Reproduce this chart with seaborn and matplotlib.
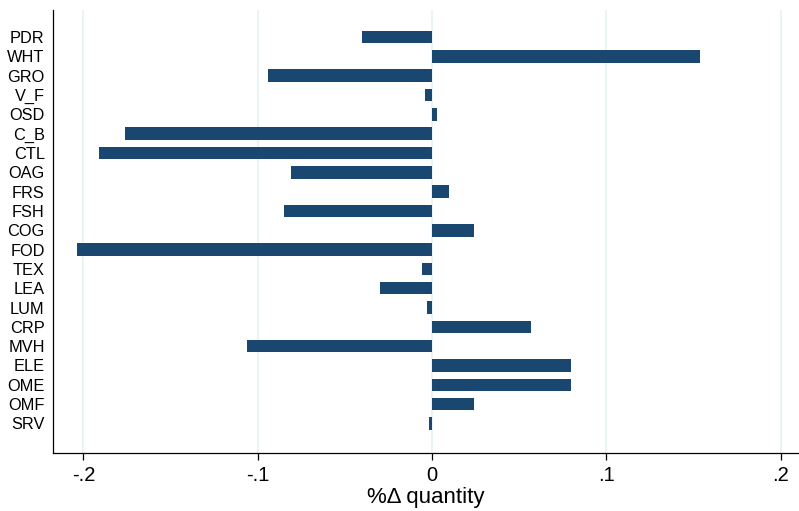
import matplotlib
matplotlib.use("Agg")
import matplotlib.pyplot as plt
import seaborn as sns
import pandas as pd

# Sector codes, top to bottom
sectors = ["PDR", "WHT", "GRO", "V_F", "OSD", "C_B", "CTL", "OAG", "FRS", "FSH",
           "COG", "FOD", "TEX", "LEA", "LUM", "CRP", "MVH", "ELE", "OME", "OMF", "SRV"]

# Percentage change in quantity by sector
pct_change = [-0.040, 0.154, -0.094, -0.004, 0.003, -0.176, -0.191, -0.081, 0.010, -0.085,
              0.024, -0.204, -0.006, -0.030, -0.003, 0.057, -0.106, 0.080, 0.080, 0.024, -0.0015]

x_ticks = [-0.2, -0.1, 0.0, 0.1, 0.2]
x_tick_labels = ["-.2", "-.1", "0", ".1", ".2"]

df = pd.DataFrame({"sector": sectors, "change": pct_change})

sns.set_style("white")
plt.rcParams["font.family"] = ["Liberation Sans", "DejaVu Sans"]
plt.rcParams["text.color"] = "black"
plt.rcParams["axes.labelcolor"] = "black"
plt.rcParams["xtick.color"] = "black"
plt.rcParams["ytick.color"] = "black"

fig = plt.figure(figsize=(7.99, 5.11), dpi=100)
W, H = 799, 511
ax = fig.add_axes([53 / W, 1 - 453 / H, (W - 53) / W, (453 - 10) / H])

ax.grid(False)
for xt in x_ticks:
    ax.axvline(xt, color="#eaf2f3", lw=1.3, zorder=0)

sns.barplot(data=df, x="change", y="sector", orient="h", order=sectors,
            color="#1a476f", saturation=1, width=0.65, linewidth=0, ax=ax, zorder=2)

ax.set_xlim(-0.2175, 0.2106)
ax.set_ylim(len(sectors) - 1 + 1.53, -1.40)

ax.set_xticks(x_ticks)
ax.set_xticklabels(x_tick_labels, fontsize=14.5)
ax.tick_params(axis="x", bottom=True, direction="out", length=5, width=0.9,
               color="black", labelcolor="black", pad=4)
ax.tick_params(axis="y", left=False, length=0, pad=6, labelsize=11.8, labelcolor="black")

ax.set_xlabel("%\u0394 quantity", fontsize=16, labelpad=2, color="black")
ax.set_ylabel("")

for side in ["top", "right"]:
    ax.spines[side].set_visible(False)
for side in ["left", "bottom"]:
    ax.spines[side].set_visible(True)
    ax.spines[side].set_color("black")
    ax.spines[side].set_linewidth(0.9)

fig.savefig("out.png", dpi=100, facecolor="white")
